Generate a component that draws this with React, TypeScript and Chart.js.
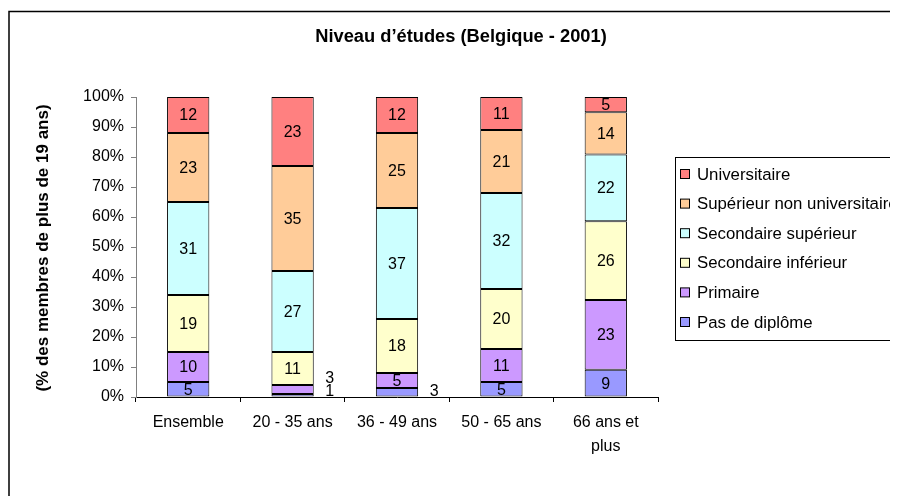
import React, { useEffect, useRef } from "react";
import { Chart, registerables } from "chart.js";

Chart.register(...registerables);

const chartTitle = "Niveau d’études (Belgique - 2001)";
const yAxisTitle = "(% des membres de plus de 19 ans)";

const categories: (string | string[])[] = [
  "Ensemble",
  "20 - 35 ans",
  "36 - 49 ans",
  "50 - 65 ans",
  ["66 ans et", "plus"],
];

const seriesNames = [
  "Pas de diplôme",
  "Primaire",
  "Secondaire inférieur",
  "Secondaire supérieur",
  "Supérieur non universitaire",
  "Universitaire",
];

const pasDeDiplome = [5, 1, 3, 5, 9];
const primaire = [10, 3, 5, 11, 23];
const secondaireInferieur = [19, 11, 18, 20, 26];
const secondaireSuperieur = [31, 27, 37, 32, 22];
const superieurNonUniversitaire = [23, 35, 25, 21, 14];
const universitaire = [12, 23, 12, 11, 5];

const seriesValues = [
  pasDeDiplome,
  primaire,
  secondaireInferieur,
  secondaireSuperieur,
  superieurNonUniversitaire,
  universitaire,
];

const seriesColors = ["#9999FF", "#CC99FF", "#FFFFCC", "#CCFFFF", "#FFCC99", "#FF8080"];

const yTickStep = 10;
const FONT = '"Liberation Sans", Arial, Helvetica, sans-serif';

export default function App() {
  const canvasRef = useRef<HTMLCanvasElement | null>(null);

  useEffect(() => {
    if (!canvasRef.current) return;

    const totals = categories.map((_, j) =>
      seriesValues.reduce((s, arr) => s + arr[j], 0)
    );

    const datasets = seriesValues.map((vals, i) => ({
      label: seriesNames[i],
      data: vals.map((v, j) => (v / totals[j]) * 100),
      backgroundColor: seriesColors[i],
      borderColor: "#000000",
      borderWidth: 1,
      borderSkipped: false as const,
      barPercentage: 0.405,
      categoryPercentage: 1,
    }));

    const labelsPlugin = {
      id: "segmentLabels",
      afterDatasetsDraw(chart: any) {
        const ctx = chart.ctx;
        const area = chart.chartArea;
        ctx.save();
        ctx.fillStyle = "#000";
        ctx.font = `16px ${FONT}`;
        ctx.textAlign = "center";
        ctx.textBaseline = "middle";
        const small: { x: number; y: number; text: string }[][] = categories.map(() => []);
        seriesValues.forEach((vals, i) => {
          const meta = chart.getDatasetMeta(i);
          vals.forEach((v, j) => {
            const bar = meta.data[j];
            const cy = (bar.y + bar.base) / 2;
            if (v >= 4) {
              ctx.fillText(String(v), bar.x, cy + 1);
            } else {
              small[j].push({ x: bar.x + bar.width / 2 + 16, y: cy, text: String(v) });
            }
          });
        });
        small.forEach((list) => {
          let prev = Infinity;
          list.forEach((item) => {
            let y = Math.min(item.y, area.bottom - 5);
            if (y > prev - 13) y = prev - 13;
            prev = y;
            ctx.fillText(item.text, item.x, y);
          });
        });
        ctx.restore();
      },
    };

    const decorPlugin = {
      id: "decor",
      afterDraw(chart: any) {
        const ctx = chart.ctx;
        const area = chart.chartArea;
        ctx.save();
        // outer frame (left + top visible)
        ctx.strokeStyle = "#000";
        ctx.lineWidth = 1.5;
        ctx.beginPath();
        ctx.moveTo(1, chart.height + 10);
        ctx.lineTo(1, 3.5);
        ctx.lineTo(chart.width + 10, 3.5);
        ctx.stroke();

        // title
        ctx.fillStyle = "#000";
        ctx.textAlign = "center";
        ctx.textBaseline = "middle";
        ctx.font = `bold 18.3px ${FONT}`;
        ctx.fillText(chartTitle, 453, 28.5);

        // y axis title
        ctx.save();
        ctx.translate(35, (area.top + area.bottom) / 2 + 1);
        ctx.rotate(-Math.PI / 2);
        ctx.font = `bold 17px ${FONT}`;
        ctx.fillText(yAxisTitle, 0, 0);
        ctx.restore();

        // legend
        const lx = 667;
        const top = 149;
        const bottom = 332;
        ctx.strokeStyle = "#000";
        ctx.lineWidth = 1;
        ctx.strokeRect(lx + 0.5, top + 0.5, chart.width + 20, bottom - top);
        ctx.textAlign = "left";
        ctx.font = `16.8px ${FONT}`;
        const order = [...seriesNames.keys()].reverse();
        order.forEach((idx, k) => {
          const cy = 166 + k * 29.6;
          ctx.fillStyle = seriesColors[idx];
          ctx.fillRect(lx + 5.5, cy - 4.5, 9, 9);
          ctx.strokeStyle = "#000";
          ctx.strokeRect(lx + 5.5, cy - 4.5, 9, 9);
          ctx.fillStyle = "#000";
          ctx.fillText(seriesNames[idx], lx + 22, cy + 1);
        });
        ctx.restore();
      },
    };

    const chart = new Chart(canvasRef.current, {
      type: "bar",
      data: { labels: categories as any, datasets: datasets as any },
      options: {
        responsive: false,
        animation: false,
        devicePixelRatio: 1,
        layout: { padding: { left: 0, right: 240, top: 89, bottom: 39 } },
        plugins: {
          legend: { display: false },
          title: { display: false },
          tooltip: { enabled: false },
        },
        scales: {
          x: {
            stacked: true,
            grid: {
              offset: true,
              drawOnChartArea: false,
              drawTicks: true,
              tickLength: 5,
              color: "#000",
            },
            border: { display: true, color: "#000", width: 1 },
            ticks: {
              color: "#000",
              font: { family: FONT, size: 16, lineHeight: 1.5 },
              padding: 9,
              maxRotation: 0,
              autoSkip: false,
            },
            afterFit: (s: any) => {
              s.height = 60;
            },
          },
          y: {
            stacked: true,
            min: 0,
            max: 100,
            grid: {
              drawOnChartArea: false,
              drawTicks: true,
              tickLength: 5,
              color: "#808080",
            },
            border: { display: true, color: "#808080", width: 1 },
            ticks: {
              stepSize: yTickStep,
              color: "#000",
              font: { family: FONT, size: 16 },
              padding: 7,
              callback: (v: any) => `${v}%`,
            },
            afterFit: (s: any) => {
              s.width = 128;
            },
          },
        },
      },
      plugins: [labelsPlugin, decorPlugin],
    });

    return () => chart.destroy();
  }, []);

  return (
    <div style={{ width: 890, height: 488, position: "relative" }}>
      <canvas ref={canvasRef} width={890} height={488} style={{ display: "block" }} />
    </div>
  );
}
